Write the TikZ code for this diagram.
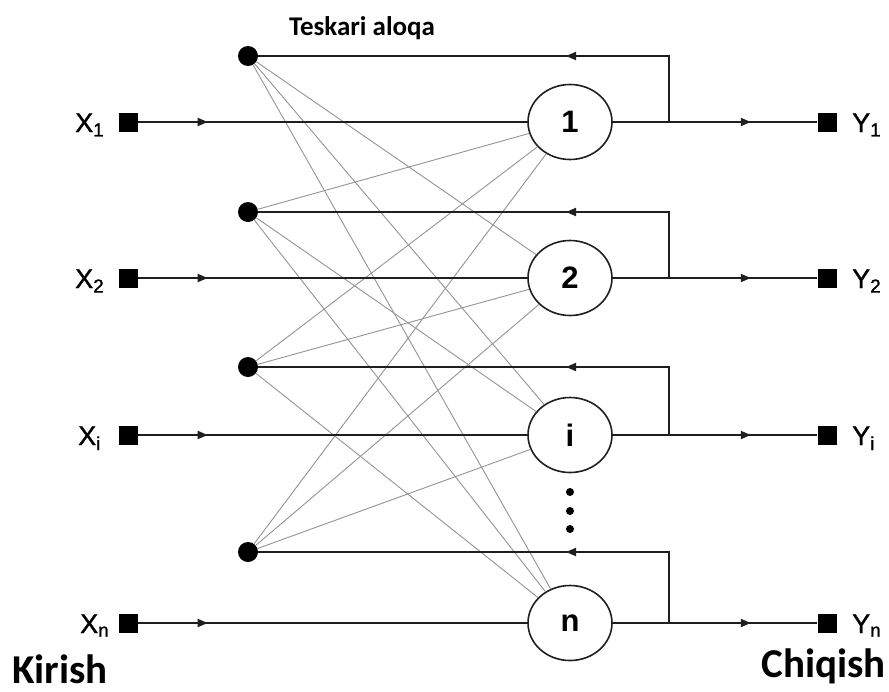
\documentclass[tikz,border=0pt]{standalone}
\usepackage{fontspec}
\setmainfont{Liberation Sans}
\newfontfamily\calfont{Carlito}
\newfontfamily\lblfont[FakeBold=1.2]{Liberation Sans}
\usetikzlibrary{shapes.geometric,arrows.meta,decorations.markings}
\begin{document}
\begin{tikzpicture}[x=1pt,y=-1pt,
  mainline/.style={draw=black!88,line width=1.8pt,line join=miter},
  link/.style={draw=black!42,line width=0.9pt},
  neuron/.style={ellipse,draw=black!88,line width=1.6pt,minimum width=84pt,minimum height=75pt,inner sep=0pt,fill=white,font=\fontsize{31}{31}\selectfont\bfseries},
  fbdot/.style={circle,fill=black,minimum size=20pt,inner sep=0pt},
  port/.style={rectangle,fill=black,minimum size=19pt,inner sep=0pt},
  vdot/.style={circle,fill=black,minimum size=8pt,inner sep=0pt},
  iolabel/.style={inner sep=0pt,font=\lblfont\fontsize{27}{27}\selectfont},
  bigtext/.style={inner sep=0pt,font=\calfont\bfseries\fontsize{41}{41}\selectfont},
  arrowat/.style={postaction={decorate,decoration={markings,mark=at position #1 with {\arrow{Triangle[length=10pt,width=8pt]}}}}}
]
\fill[white] (0,0) rectangle (889,691);
\useasboundingbox (0,0) rectangle (889,691);

% rows: index / feedback y / neuron y / label / subscript / x of X label
\foreach \r/\dy/\ny/\lab/\sub/\xx in {1/56/122/1/1/75, 2/212/278/2/2/75, 3/367/435/i/i/78, 4/552/623/n/n/80} {
  \node[fbdot] (d\r) at (248,\dy) {};
  \node[neuron] (n\r) at (570,\ny) {\lab};
  \node[port] (in\r) at (128,\ny) {};
  \node[port] (out\r) at (827,\ny) {};
  \coordinate (j\r) at (669,\ny);
  \coordinate (c\r) at (669,\dy);
  \node[iolabel,anchor=base west] (xl\r) at (\xx,\ny+10) {X\textsubscript{\sub}};
  \node[iolabel,anchor=base west] (yl\r) at (852,\ny+10) {Y\textsubscript{\sub}};
}

% cross connections (no self-connections)
\foreach \a in {1,...,4}{
  \foreach \b in {1,...,4}{
    \ifnum\a=\b\relax\else
      \draw[link] (d\a) -- (n\b);
    \fi
  }
}

% main lines
\foreach \r/\dy/\ny in {1/56/122, 2/212/278, 3/367/435, 4/552/623} {
  \pgfmathsetmacro\fbpos{\ny-\dy+103}
  \draw[mainline,arrowat=70pt] (in\r) -- (n\r);
  \draw[mainline,arrowat=138pt] (n\r) -- (out\r);
  \draw[mainline,arrowat=\fbpos pt] (j\r) -- (c\r) -- (d\r);
}

% vertical ellipsis
\node[vdot] (e1) at (570,492) {};
\node[vdot] (e2) at (570,511) {};
\node[vdot] (e3) at (570,529) {};

% texts
\node[inner sep=0pt,anchor=base,font=\calfont\bfseries\fontsize{27}{27}\selectfont] (title) at (362,35) {Teskari aloqa};
\node[bigtext,anchor=base west] (kirish) at (12,683) {Kirish};
\node[bigtext,anchor=base east] (chiqish) at (886,677) {Chiqish};
\end{tikzpicture}
\end{document}
